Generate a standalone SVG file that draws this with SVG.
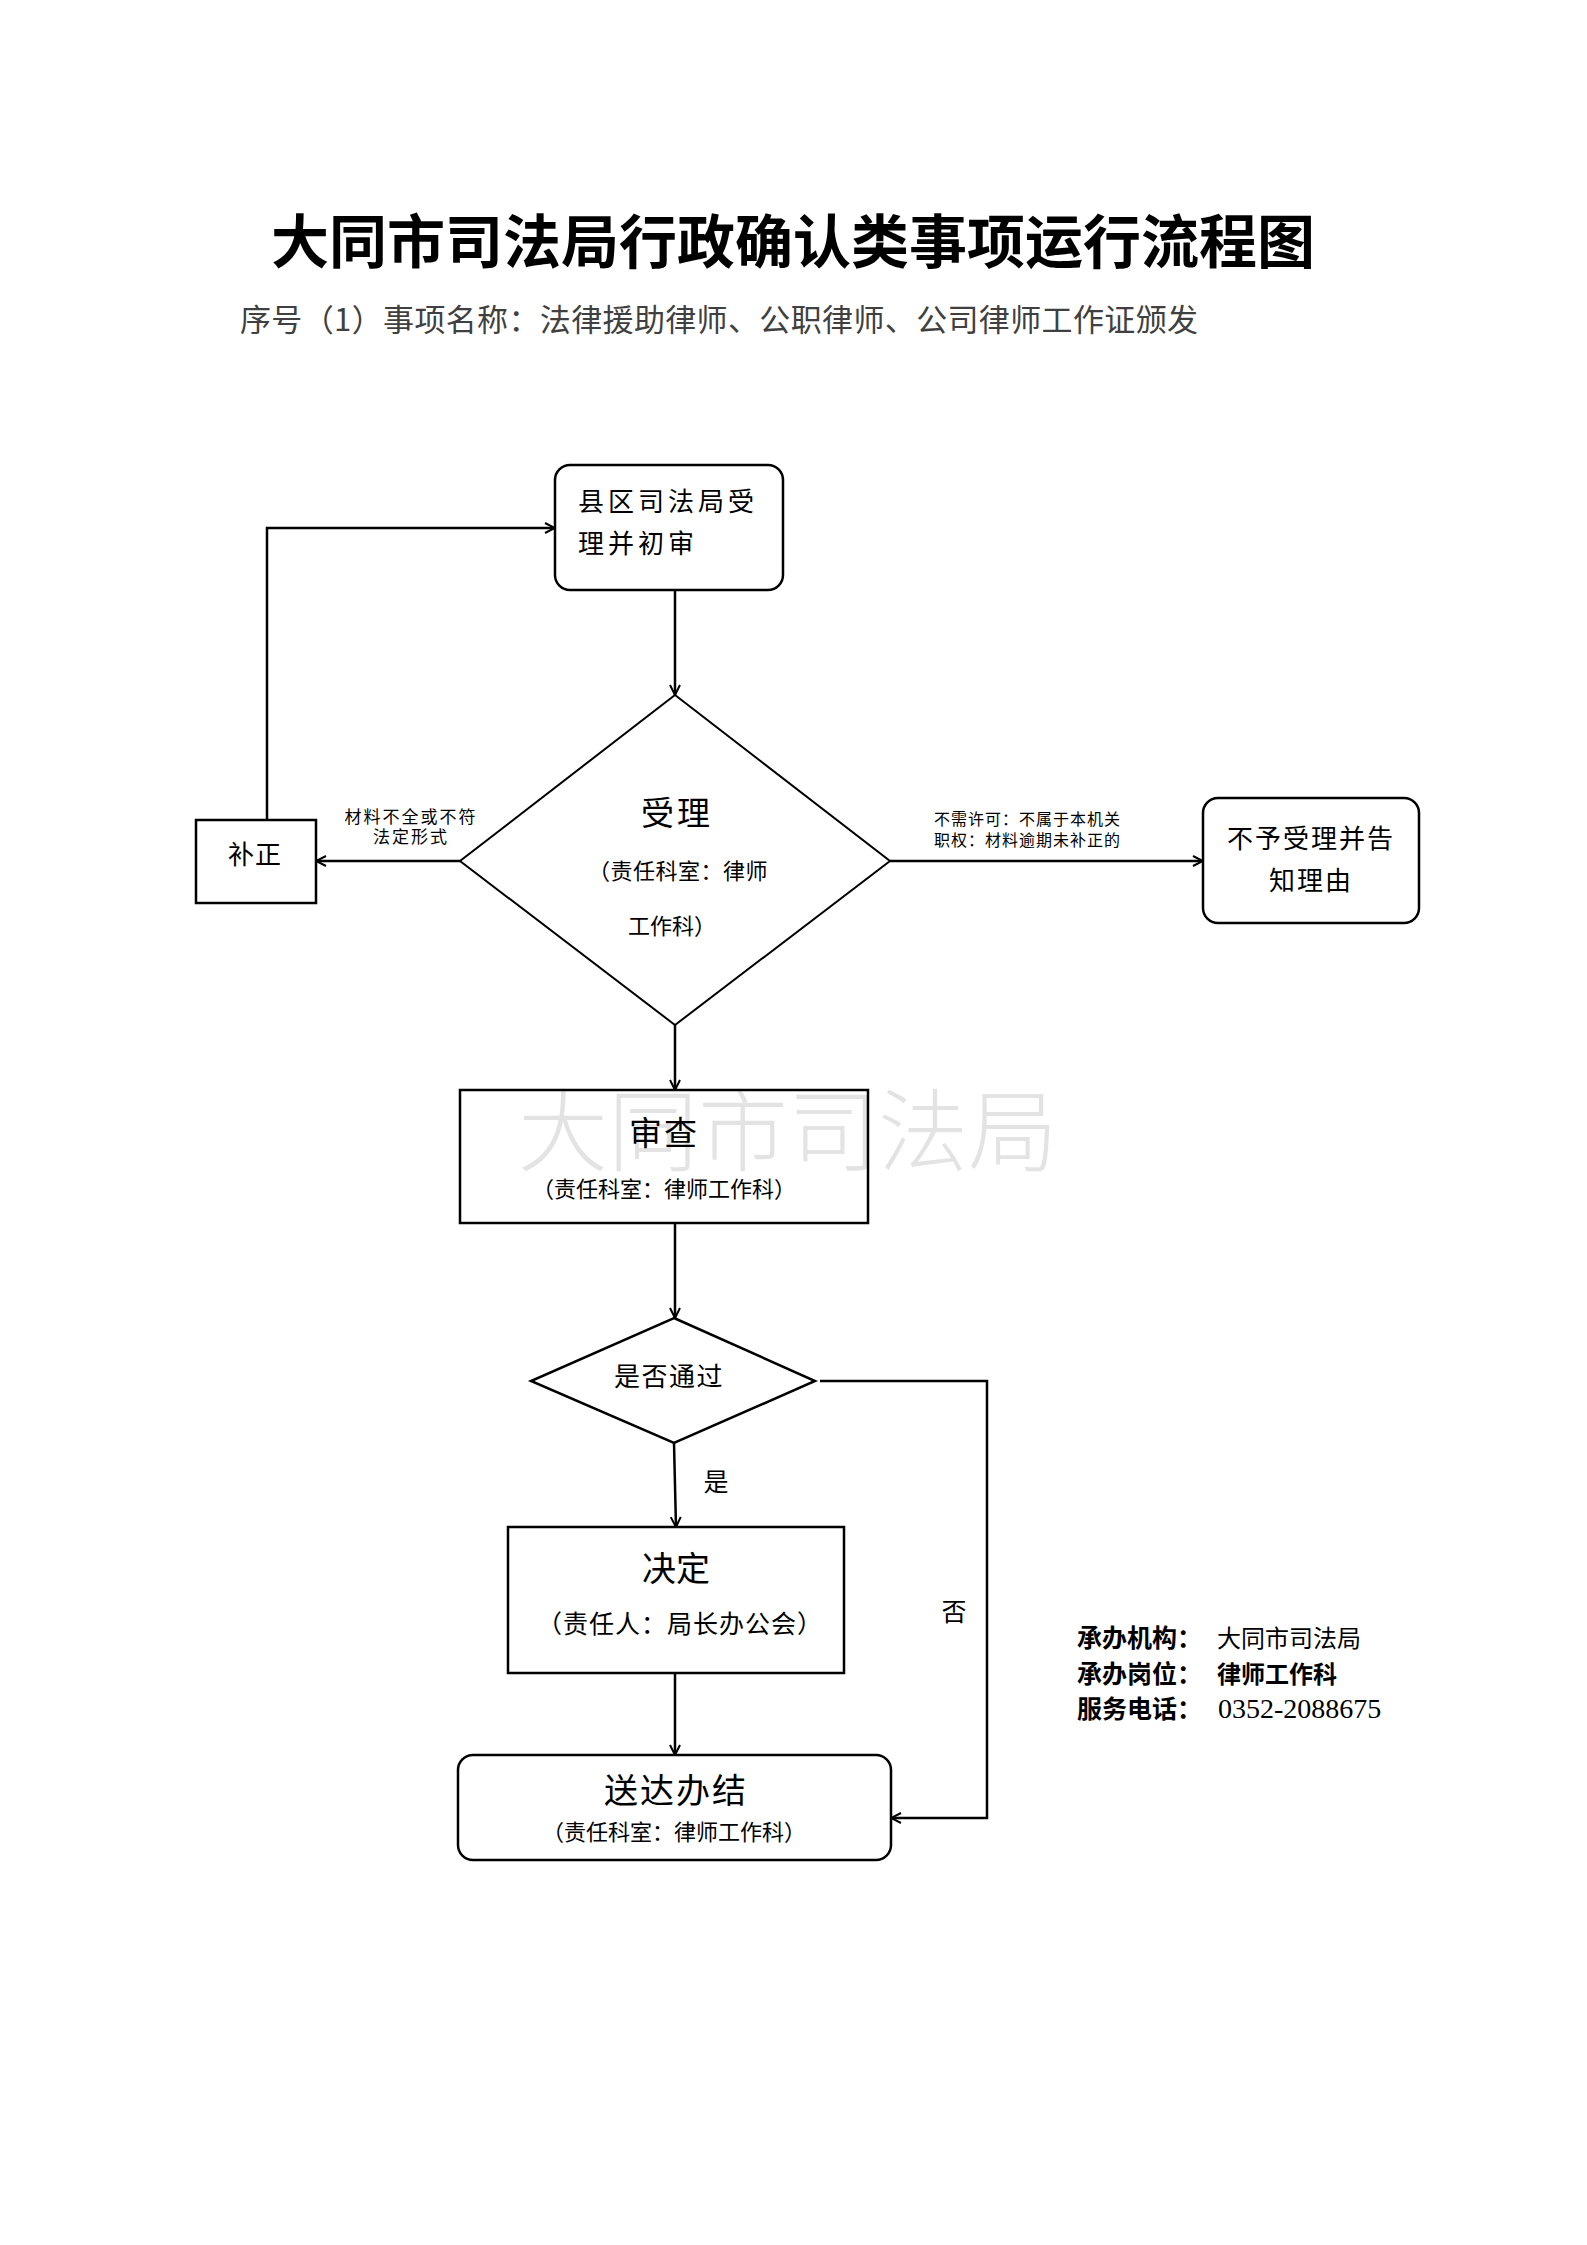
<svg xmlns="http://www.w3.org/2000/svg" width="1587" height="2245" viewBox="0 0 1587 2245">
<style>
.t{font-family:"Noto Sans CJK SC","Noto Sans",sans-serif;fill:#000;}
.box{fill:none;stroke:#000;stroke-width:2.5;}
.dia{fill:none;stroke:#000;stroke-width:2;}
.con{fill:none;stroke:#000;stroke-width:2.5;}
.b{font-weight:bold;}
.wm{font-family:"Noto Sans CJK SC","Noto Sans",sans-serif;fill:#000;fill-opacity:0.11;font-weight:300;}
</style>
<defs>
<marker id="arr" viewBox="0 0 12 12" refX="11" refY="6" markerWidth="12" markerHeight="12" markerUnits="userSpaceOnUse" orient="auto">
<path d="M1,1 L11,6 L1,11" fill="none" stroke="#000" stroke-width="2"/>
</marker>
</defs>
<rect width="1587" height="2245" fill="#fff"/>

<g id="header">
<text class="t b" x="793" y="263" font-size="58" text-anchor="middle">大同市司法局行政确认类事项运行流程图</text>
<text class="t" x="240" y="331" font-size="31" style="fill:#404040" textLength="958">序号（1）事项名称：法律援助律师、公职律师、公司律师工作证颁发</text>
</g>

<g id="connectors">
<path class="con" d="M675,590 V695" marker-end="url(#arr)"/>
<path class="con" d="M460,861 H316" marker-end="url(#arr)"/>
<path class="con" d="M890,861 H1203" marker-end="url(#arr)"/>
<path class="con" d="M267,820 V528 H555" marker-end="url(#arr)"/>
<path class="con" d="M675,1025 V1090" marker-end="url(#arr)"/>
<path class="con" d="M675,1223 V1318" marker-end="url(#arr)"/>
<path class="con" d="M674,1443 L676,1527" marker-end="url(#arr)"/>
<path class="con" d="M675,1673 V1755" marker-end="url(#arr)"/>
<path class="con" d="M820,1381 H987 V1818 H891" marker-end="url(#arr)"/>
<text class="t" x="411" y="823" font-size="17" text-anchor="middle" letter-spacing="2">材料不全或不符</text>
<text class="t" x="411" y="843" font-size="17" text-anchor="middle" letter-spacing="2">法定形式</text>
<text class="t" x="934" y="825" font-size="16" letter-spacing="1">不需许可：不属于本机关</text>
<text class="t" x="934" y="846" font-size="16" letter-spacing="1">职权：材料逾期未补正的</text>
<text class="t" x="716" y="1491" font-size="25" text-anchor="middle">是</text>
<text class="t" x="954" y="1621" font-size="25" text-anchor="middle">否</text>
</g>

<g id="node-start">
<rect class="box" x="555" y="465" width="228" height="125" rx="15"/>
<text class="t" x="578" y="511" font-size="26" letter-spacing="4">县区司法局受</text>
<text class="t" x="578" y="553" font-size="26" letter-spacing="4">理并初审</text>
</g>

<g id="node-accept">
<path class="dia" d="M675,695 L890,861 L675,1025 L460,861 Z"/>
<text class="t" x="677" y="825" font-size="33" text-anchor="middle" letter-spacing="3">受理</text>
<text class="t" x="678" y="879" font-size="22" text-anchor="middle" letter-spacing="0.5">（责任科室：律师</text>
<text class="t" x="672" y="934" font-size="22" text-anchor="middle">工作科）</text>
</g>

<g id="node-correct">
<rect class="box" x="196" y="820" width="120" height="83"/>
<text class="t" x="255" y="864" font-size="26" text-anchor="middle" letter-spacing="1">补正</text>
</g>

<g id="node-reject">
<rect class="box" x="1203" y="798" width="216" height="125" rx="15"/>
<text class="t" x="1311" y="848" font-size="26" text-anchor="middle" letter-spacing="2">不予受理并告</text>
<text class="t" x="1311" y="890" font-size="26" text-anchor="middle" letter-spacing="2">知理由</text>
</g>

<g id="node-review">
<rect class="box" x="460" y="1090" width="408" height="133"/>
<text class="t" x="664" y="1145" font-size="33" text-anchor="middle" letter-spacing="2">审查</text>
<text class="t" x="664" y="1197" font-size="22" text-anchor="middle">（责任科室：律师工作科）</text>
</g>

<g id="node-pass">
<path class="dia" style="stroke-width:2.5" d="M674,1318 L815,1381 L674,1443 L531,1381 Z"/>
<text class="t" x="669" y="1386" font-size="26" text-anchor="middle" letter-spacing="1.5">是否通过</text>
</g>

<g id="node-decide">
<rect class="box" x="508" y="1527" width="336" height="146"/>
<text class="t" x="676" y="1581" font-size="34" text-anchor="middle">决定</text>
<text class="t" x="680" y="1633" font-size="25" text-anchor="middle" letter-spacing="1">（责任人：局长办公会）</text>
</g>

<g id="node-deliver">
<rect class="box" x="458" y="1755" width="433" height="105" rx="15"/>
<text class="t" x="676" y="1803" font-size="34" text-anchor="middle" letter-spacing="2">送达办结</text>
<text class="t" x="674" y="1840" font-size="22" text-anchor="middle">（责任科室：律师工作科）</text>
</g>

<g id="info">
<text class="t" x="1077" y="1647" font-size="25"><tspan class="b">承办机构：</tspan><tspan x="1217" font-size="24">大同市司法局</tspan></text>
<text class="t" x="1077" y="1683" font-size="25"><tspan class="b">承办岗位：</tspan><tspan x="1217" font-size="24" class="b">律师工作科</tspan></text>
<text class="t" x="1077" y="1718" font-size="25"><tspan class="b">服务电话：</tspan><tspan x="1218" font-size="28" style="font-family:'Liberation Serif',serif">0352-2088675</tspan></text>
</g>

<g id="watermark">
<text class="wm" x="518" y="1164" font-size="90">大同市司法局</text>
</g>
</svg>
